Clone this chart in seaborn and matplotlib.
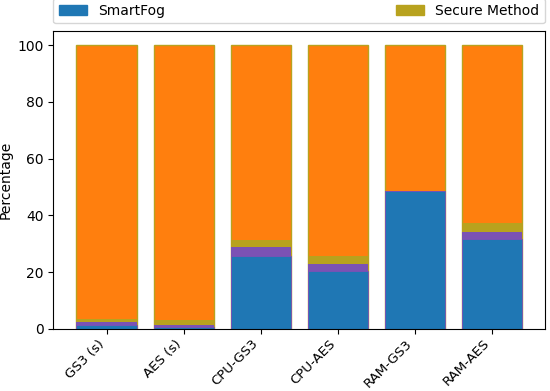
import matplotlib
matplotlib.use("Agg")
import matplotlib.pyplot as plt
from matplotlib.patches import Patch
import seaborn as sns
import numpy as np

categories = ["GS3 (s)", "AES (s)", "CPU-GS3", "CPU-AES", "RAM-GS3", "RAM-AES"]
smartfog = [1.2, 0.6, 25.8, 20.3, 48.6, 31.7]
overhead = [1.2, 0.9, 3.2, 2.6, 0.0, 2.4]
secure = [1.0, 1.5, 2.4, 2.9, 0.0, 3.2]
total = [100, 100, 100, 100, 100, 100]

c_blue = "#1f77b4"
c_purple = "#7b52b4"
c_olive = "#b8a21e"
c_orange = "#ff7f0e"

plt.rcParams["font.family"] = ["DejaVu Sans"]
fig = plt.figure(figsize=(5.5, 3.91), dpi=100)
ax = fig.add_axes([0.097, 0.159, 0.894, 0.762])

lvl_secure = np.array(smartfog) + np.array(overhead) + np.array(secure)
lvl_over = np.array(smartfog) + np.array(overhead)

w = 0.78
sns.barplot(x=categories, y=total, color=c_orange, width=w, ax=ax,
            edgecolor=c_olive, linewidth=1.0, saturation=1)
sns.barplot(x=categories, y=list(lvl_secure), color=c_olive, width=w, ax=ax,
            linewidth=0, saturation=1)
sns.barplot(x=categories, y=list(lvl_over), color=c_purple, width=w, ax=ax,
            linewidth=0, saturation=1)
sns.barplot(x=categories, y=smartfog, color=c_blue, width=w, ax=ax,
            edgecolor=c_purple, linewidth=0.6, saturation=1)

ax.set_xlim(-0.69, 5.69)
ax.set_ylim(0, 105)
ax.set_ylabel("Percentage")
ax.yaxis.set_label_coords(-0.082, 0.5)
ax.set_xlabel("")
ax.tick_params(axis="x", pad=2.5)
plt.setp(ax.get_xticklabels(), rotation=45, ha="right", fontsize=9.6)

handles = [Patch(color=c_blue, label="SmartFog"), Patch(color=c_olive, label="Secure Method")]
ax.legend(handles=handles, bbox_to_anchor=(0, 1.025, 1, 0.07), loc="lower left",
          ncol=2, mode="expand", borderaxespad=0)

fig.savefig("out.png", dpi=100)
